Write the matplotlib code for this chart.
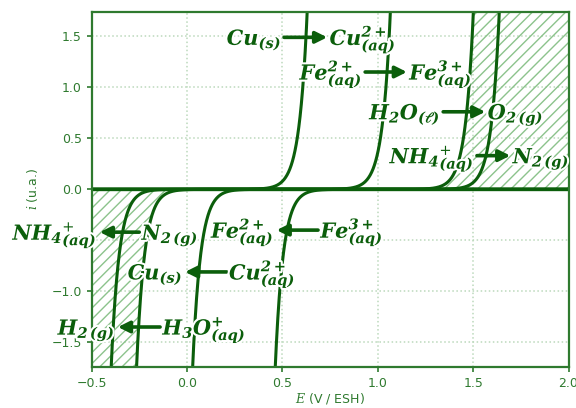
import numpy as np
import matplotlib
matplotlib.use("Agg")
import matplotlib.pyplot as plt
import matplotlib.patheffects as pe

plt.rcParams['mathtext.fontset'] = 'dejavuserif'

dark = '#0b5e0b'
mid = '#2f7a2f'
hatch_col = '#8cc38c'
grid_col = '#bcd9bc'

# potentials (V / ESH) where |i| = 1 for each branch
anodic_E = [0.607, 1.043, 1.478, 1.614]     # Cu, Fe2+, H2O, NH4+ oxidation
cathodic_E = [-0.374, -0.241, 0.053, 0.486]  # N2, H3O+, Cu2+, Fe3+ reduction
slope = 0.042

nh4 = r'$\mathbfit{NH_4}^{+}_{\mathbfit{(aq)}}$'
# arrows: (y, x_start, x_end, left label, right label)
ox_arrows = [
    (1.49, 0.509, 0.735, r'$\mathbfit{Cu_{(s)}}$', r'$\mathbfit{Cu^{2+}_{(aq)}}$'),
    (1.15, 0.934, 1.153, r'$\mathbfit{Fe^{2+}_{(aq)}}$', r'$\mathbfit{Fe^{3+}_{(aq)}}$'),
    (0.76, 1.343, 1.564, r'$\mathbfit{H_2O_{(\ell)}}$', r'$\mathbfit{O_{2\,(g)}}$'),
    (0.33, 1.520, 1.695, nh4, r'$\mathbfit{N_{2\,(g)}}$'),
]
red_arrows = [
    (-0.42, -0.457, -0.250, nh4, r'$\mathbfit{N_{2\,(g)}}$'),
    (-0.40, 0.470, 0.687, r'$\mathbfit{Fe^{2+}_{(aq)}}$', r'$\mathbfit{Fe^{3+}_{(aq)}}$'),
    (-0.81, -0.010, 0.208, r'$\mathbfit{Cu_{(s)}}$', r'$\mathbfit{Cu^{2+}_{(aq)}}$'),
    (-1.35, -0.362, -0.141, r'$\mathbfit{H_{2\,(g)}}$', r'$\mathbfit{H_3O^{+}_{(aq)}}$'),
]

E = np.linspace(-0.5, 2.0, 3000)
ymin, ymax = -1.74, 1.74

fig = plt.figure(figsize=(5.76, 4.08), dpi=100)
ax = fig.add_axes([0.159, 0.101, 0.828, 0.870])

# solvent limits (hatched)
i_up = np.linspace(0, ymax, 300)
E_ox = anodic_E[2] + slope * np.log(np.maximum(i_up, 1e-6))
ax.fill_betweenx(i_up, np.clip(E_ox, -0.5, 2.0), 2.0, facecolor='none',
                 edgecolor=hatch_col, hatch='///', linewidth=0)
i_dn = np.linspace(ymin, 0, 300)
E_red = cathodic_E[1] - slope * np.log(np.maximum(-i_dn, 1e-6))
ax.fill_betweenx(i_dn, -0.5, np.clip(E_red, -0.5, 2.0), facecolor='none',
                 edgecolor=hatch_col, hatch='///', linewidth=0)

for e1 in anodic_E:
    i = np.exp((E - e1) / slope)
    ax.plot(E, np.where(i < 3, i, np.nan), color=dark, lw=2.2)
for e1 in cathodic_E:
    i = -np.exp(-(E - e1) / slope)
    ax.plot(E, np.where(i > -3, i, np.nan), color=dark, lw=2.2)

ax.axhline(0, color=dark, lw=2.4)

dy = 0.075
gap = 0.012
halo = [pe.withStroke(linewidth=3, foreground='white')]
for y, x0, x1, left, right in ox_arrows + red_arrows:
    tail, head = (x0, x1) if y > 0 else (x1, x0)
    ax.annotate('', xy=(head, y), xytext=(tail, y),
                arrowprops=dict(arrowstyle='-|>', lw=2.6, color=dark,
                                mutation_scale=17, shrinkA=0, shrinkB=0))
    ax.text(x0 - gap, y - dy, left, ha='right', va='baseline', fontsize=15,
            color=dark, clip_on=False, path_effects=halo)
    ax.text(x1 + gap, y - dy, right, ha='left', va='baseline', fontsize=15,
            color=dark, clip_on=False, path_effects=halo)

ax.set_xlim(-0.5, 2.0)
ax.set_ylim(ymin, ymax)
ax.set_xticks([-0.5, 0.0, 0.5, 1.0, 1.5, 2.0])
ax.set_yticks([-1.5, -1.0, -0.5, 0.0, 0.5, 1.0, 1.5])
ax.grid(True, color=grid_col, linestyle=':', lw=1.1)
ax.set_axisbelow(True)
for s in ax.spines.values():
    s.set_color(mid)
    s.set_linewidth(1.6)
ax.tick_params(colors=mid, labelcolor=mid, labelsize=9, width=1.2)
ax.set_xlabel(r'$E$ (V / ESH)', color=mid, fontsize=9, labelpad=1)
ax.set_ylabel(r'$i$ (u.a.)', color=mid, fontsize=9, labelpad=8)

fig.savefig('out.png', dpi=100)
